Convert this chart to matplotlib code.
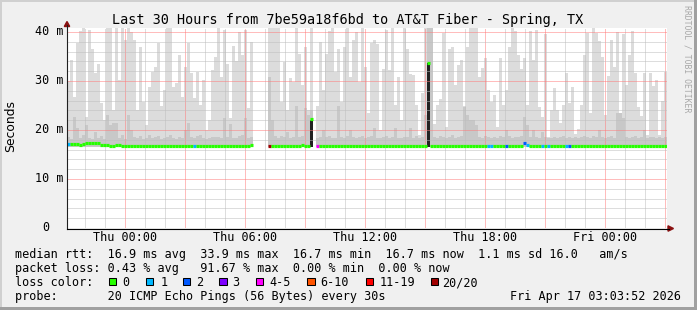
import matplotlib.pyplot as plt
import numpy as np
from matplotlib.patches import Rectangle, Polygon

nan = np.nan

# one smoke column every 9 minutes, hours counted from Thu 00:00
t_first = -2.885
step_h = 0.15

# top of the smoke (max rtt, ms)
smoke_max = [
    30.0, 34.3, 26.8, 37.7, 40.3, 41.0, 22.7, 40.5, 36.5, 31.6,
    33.5, 25.5, 22.0, 41.0, 41.0, 24.1, 41.0, 30.2, 41.0, 38.4,
    41.0, 40.0, 38.4, 24.1, 37.0, 25.8, 21.0, 28.8, 31.9, 32.9,
    37.7, 24.8, 28.2, 41.0, 41.0, 28.8, 29.5, 35.3, 26.8, 32.9,
    37.7, 31.6, 26.5, 31.9, 25.1, 30.2, 20.0, 22.0, 32.2, 35.0,
    41.0, 30.9, 40.5, 33.5, 22.5, 37.2, 34.0, 40.0, 35.3, 40.5,
    24.5, 38.0, nan, nan, nan, nan, nan, 41.0, 41.0, 41.0,
    41.0, 25.8, 33.9, 24.1, 30.6, 29.9, 41.0, 35.5, 29.2, 37.0,
    24.1, 41.0, nan, 25.0, 38.0, 28.2, 35.5, 40.3, 41.0, 31.9,
    36.5, 25.8, 37.0, 41.0, 30.9, 38.4, 40.0, 29.9, 41.0, 32.9,
    23.5, 37.7, 38.4, 37.5, 20.0, 32.4, 40.5, 32.2, 41.0, 25.2,
    30.9, 22.0, 41.0, 36.5, 31.4, 31.2, 25.1, 19.0, 27.5, 41.0,
    41.0, 41.0, 21.2, 25.1, 26.3, 39.7, 20.6, 36.5, 37.0, 29.2,
    33.2, 34.3, 24.8, 37.0, 41.0, 41.0, 41.0, 30.9, 32.7, 34.6,
    28.2, 25.8, 27.2, 20.6, 34.6, 25.1, 28.2, 37.0, 41.0, 40.3,
    35.3, 32.5, 34.6, 25.1, 40.3, 34.3, 40.5, 24.6, 22.7, 39.5,
    18.5, 24.0, 28.5, 24.0, 21.5, 25.1, 31.6, 25.5, 28.8, 19.2,
    20.3, 25.1, 35.3, 39.7, 23.4, 41.0, 39.7, 38.2, 35.0, 23.0,
    31.0, 38.4, 32.9, 40.0, 21.4, 39.5, 29.2, 35.3, 40.3, 31.6,
    24.6, 22.9, 31.6, 19.0, 31.6, 29.0, 30.2, 19.0, 26.0, 31.9,
]

# darker inner smoke (upper pings, ms)
smoke_upper = [
    18.6, 18.2, 22.7, 20.5, 18.4, 18.9, 21.0, 18.3, 18.1, 19.5,
    18.4, 18.8, 18.2, 23.0, 21.0, 21.5, 21.5, 18.4, 18.9, 18.2,
    23.0, 20.0, 18.5, 18.3, 18.7, 18.2, 18.4, 19.0, 18.3, 18.5,
    18.8, 18.2, 18.4, 18.6, 18.9, 18.3, 18.2, 18.6, 18.4, 20.0,
    21.5, 18.5, 18.3, 18.7, 19.0, 18.4, 18.2, 18.3, 18.6, 18.5,
    18.5, 18.3, 22.5, 18.6, 21.2, 18.4, 18.3, 18.8, 19.0, 22.5,
    18.4, 18.6, nan, nan, nan, nan, nan, 30.9, 22.0, 18.7,
    18.4, 18.8, 18.5, 19.5, 18.3, 18.6, 25.0, 18.5, 18.7, 24.5,
    23.0, 24.0, nan, 18.4, 18.6, 20.0, 18.5, 18.8, 18.4, 18.3,
    25.0, 18.6, 18.4, 18.7, 20.0, 18.5, 18.3, 18.6, 18.8, 18.4,
    18.5, 18.7, 20.5, 18.4, 18.3, 18.6, 18.8, 18.4, 18.5, 20.5,
    18.4, 18.3, 18.6, 18.5, 20.5, 18.4, 18.7, 18.3, 18.5, 23.0,
    41.0, 41.0, 18.6, 18.4, 18.8, 18.5, 18.3, 18.6, 18.9, 18.4,
    18.5, 18.7, 24.7, 23.0, 22.0, 22.0, 21.0, 18.6, 18.4, 18.8,
    18.5, 18.3, 18.6, 18.4, 18.7, 18.5, 20.0, 18.8, 18.4, 18.6,
    18.5, 18.7, 22.7, 21.0, 18.5, 20.0, 18.6, 18.4, 19.5, 18.5,
    18.3, 18.4, 18.6, 18.3, 18.5, 18.7, 18.4, 18.6, 18.3, 18.5,
    18.4, 18.6, 18.8, 18.5, 18.3, 18.7, 18.5, 20.0, 18.6, 18.4,
    18.5, 18.7, 18.4, 23.5, 23.5, 22.5, 18.6, 18.4, 18.5, 18.7,
    18.3, 18.6, 20.0, 18.4, 18.5, 18.6, 18.3, 18.5, 18.4, 18.6,
]
smoke_low = 16.5

# columns where the pings spread widely (dark core)
core_cols = [81, 120]
core_top = [22.0, 33.7]

# median rtt (ms)
median = [
    17.1, 17.1, 17.1, 17.1, 16.9, 17.1, 17.3, 17.3, 17.3, 17.3,
    17.3, 16.9, 16.9, 16.9, 16.8, 16.8, 16.9, 16.9, 16.8, 16.8,
    16.8, 16.8, 16.8, 16.8, 16.8, 16.8, 16.8, 16.8, 16.8, 16.8,
    16.8, 16.8, 16.8, 16.8, 16.8, 16.8, 16.8, 16.8, 16.8, 16.8,
    16.8, 16.8, 16.8, 16.8, 16.8, 16.8, 16.8, 16.8, 16.8, 16.8,
    16.8, 16.8, 16.8, 16.8, 16.8, 16.8, 16.8, 16.8, 16.8, 16.8,
    16.8, 16.9, nan, nan, nan, nan, nan, 16.7, 16.8, 16.8,
    16.8, 16.8, 16.8, 16.8, 16.8, 16.8, 16.8, 16.8, 16.9, 16.8,
    16.8, 22.2, nan, 16.8, 16.8, 16.8, 16.8, 16.8, 16.8, 16.8,
    16.8, 16.8, 16.8, 16.8, 16.8, 16.8, 16.8, 16.8, 16.8, 16.8,
    16.8, 16.8, 16.8, 16.8, 16.8, 16.8, 16.8, 16.8, 16.8, 16.8,
    16.8, 16.8, 16.8, 16.8, 16.8, 16.8, 16.8, 16.8, 16.8, 16.8,
    33.7, 16.8, 16.8, 16.8, 16.8, 16.8, 16.8, 16.8, 16.8, 16.8,
    16.8, 16.8, 16.8, 16.8, 16.8, 16.8, 16.8, 16.8, 16.8, 16.8,
    16.8, 16.8, 16.8, 16.8, 16.8, 16.8, 16.8, 16.8, 16.8, 16.8,
    16.8, 16.8, 17.3, 17.0, 16.8, 16.8, 16.8, 16.8, 16.7, 16.8,
    16.7, 16.8, 16.8, 16.8, 16.8, 16.8, 16.7, 16.7, 16.8, 16.8,
    16.8, 16.8, 16.8, 16.8, 16.8, 16.8, 16.8, 16.8, 16.8, 16.8,
    16.8, 16.8, 16.8, 16.8, 16.8, 16.8, 16.8, 16.8, 16.8, 16.8,
    16.8, 16.8, 16.8, 16.8, 16.8, 16.8, 16.8, 16.7, 16.8, 16.8,
]

# lost pings out of 20 per column
loss = [
    1, 0, 0, 0, 0, 0, 0, 0, 0, 0, 0, 0, 0, 0, 0, 0, 0, 0, 0, 0,
    0, 0, 0, 0, 0, 0, 0, 0, 0, 0, 0, 0, 0, 0, 0, 0, 0, 0, 0, 0,
    0, 0, 1, 0, 0, 0, 0, 0, 0, 0, 0, 0, 0, 0, 0, 0, 0, 0, 0, 0,
    0, 0, 0, 0, 0, 0, 0, 20, 0, 0, 0, 0, 0, 0, 0, 0, 0, 0, 0, 0,
    0, 0, 0, 4, 0, 0, 0, 0, 0, 0, 0, 0, 0, 0, 0, 0, 0, 0, 0, 0,
    0, 0, 0, 0, 0, 0, 0, 0, 0, 0, 0, 0, 0, 0, 0, 0, 0, 0, 0, 0,
    0, 0, 0, 0, 0, 0, 0, 0, 0, 0, 0, 0, 0, 0, 0, 0, 0, 0, 0, 0,
    1, 1, 0, 0, 0, 0, 2, 0, 0, 0, 0, 0, 2, 1, 0, 0, 0, 0, 1, 0,
    1, 0, 0, 0, 0, 0, 1, 2, 0, 0, 0, 0, 0, 0, 0, 0, 0, 0, 0, 0,
    0, 0, 0, 0, 0, 0, 0, 0, 0, 0, 0, 0, 0, 0, 0, 0, 0, 0, 0, 0,
]

loss_labels = ['0', '1', '2', '3', '4-5', '6-10', '11-19', '20/20']
loss_upper = [0, 1, 2, 3, 5, 10, 19, 20]
loss_colors = ['#26ff00', '#00b8ff', '#0059ff', '#7e00ff', '#ff00fe',
               '#ff5500', '#ff0000', '#a10000']

tick_hours = [0, 6, 12, 18, 24]
tick_labels = ['Thu 00:00', 'Thu 06:00', 'Thu 12:00', 'Thu 18:00', 'Fri 00:00']
ytick_vals = [0, 10, 20, 30, 40]

title = 'Last 30 Hours from 7be59a18f6bd to AT&T Fiber - Spring, TX'
line_rtt = 'median rtt:  16.9 ms avg  33.9 ms max  16.7 ms min  16.7 ms now  1.1 ms sd 16.0   am/s'
line_loss = 'packet loss: 0.43 % avg   91.67 % max  0.00 % min  0.00 % now'
line_probe = 'probe:       20 ICMP Echo Pings (56 Bytes) every 30s'
stamp = 'Fri Apr 17 03:03:52 2026'

W, H = 697, 310
MONO = 'DejaVu Sans Mono'
YTOP = 40.82


def fx(x):
    return x / W


def fy(y):
    return 1 - y / H


fig = plt.figure(figsize=(W / 100, H / 100), dpi=100, facecolor='#f0f0f0')
ax = fig.add_axes([fx(67), fy(228), 600 / W, 200 / H])
n = len(smoke_max)
t = t_first + step_h * np.arange(n)
t_end = t_first + step_h * n
ax.set_xlim(t_first, t_end)
ax.set_ylim(0, YTOP)
ax.set_facecolor('white')
for s in ax.spines.values():
    s.set_visible(False)
ax.set_xticks([])
ax.set_yticks([])

# smoke
mx = np.array(smoke_max)
up = np.array(smoke_upper)
ok = ~np.isnan(mx)
ax.bar(t[ok], mx[ok] - smoke_low, bottom=smoke_low, width=step_h, align='edge',
       color='#dcdcdc', linewidth=0, antialiased=False, zorder=1)
ax.bar(t[ok], up[ok] - smoke_low, bottom=smoke_low, width=step_h, align='edge',
       color='#c8c8c8', linewidth=0, antialiased=False, zorder=2)
ax.bar(t[core_cols], np.array(core_top) - smoke_low, bottom=smoke_low, width=step_h,
       align='edge', color='#222222', linewidth=0, antialiased=False, zorder=3)

# grid, 1px dotted
gkw = dict(linestyles=(0, (1, 1)), lw=0.72, zorder=4)
hrs = np.arange(np.ceil(t_first), t_end)
ax.vlines([h for h in hrs if h % 3], 0, YTOP, colors='#bdbdbd', **gkw)
ax.vlines([h for h in hrs if h % 3 == 0], 0, YTOP, colors='#ff7a7a', **gkw)
ax.hlines([v for v in range(2, 41, 2) if v % 10], t_first, t_end, colors='#bdbdbd', **gkw)
ax.hlines([10, 20, 30, 40], t_first, t_end, colors='#ff7a7a', **gkw)

# median line coloured by loss
med = np.array(median)
cls = np.searchsorted(loss_upper, loss)
okm = ~np.isnan(med)
ax.hlines(med[okm], t[okm], t[okm] + step_h, colors=[loss_colors[c] for c in cls[okm]],
          lw=2.3, zorder=5)

# axes and arrows
fig.add_artist(plt.Line2D([fx(67), fx(67)], [fy(228.5), fy(25)], color='#202020', lw=0.8,
                          transform=fig.transFigure))
fig.add_artist(plt.Line2D([fx(66.5), fx(669)], [fy(228.5), fy(228.5)], color='#000000', lw=0.8,
                          transform=fig.transFigure))
fig.add_artist(Polygon([[fx(64.3), fy(26.5)], [fx(69.7), fy(26.5)], [fx(67), fy(21.5)]],
                       closed=True, color='#8a1010', transform=fig.transFigure))
fig.add_artist(Polygon([[fx(668), fy(225.8)], [fx(668), fy(231.2)], [fx(673.5), fy(228.5)]],
                       closed=True, color='#8a1010', transform=fig.transFigure))

# texts
fig.text(fx(348), fy(24), title, family=MONO, fontsize=9.75, ha='center', va='baseline')
for h, lab in zip(tick_hours, tick_labels):
    px = 67 + (h - t_first) / (t_end - t_first) * 600
    fig.text(fx(px), fy(240.7), lab, family=MONO, fontsize=8.5, ha='center', va='baseline')
for v in ytick_vals:
    py = 228 - v / YTOP * 200
    lab = '%d m' % v if v else '0'
    x0 = 35.1 if v else 42.2
    fig.text(fx(x0), fy(py + 3.3), lab, family=MONO, fontsize=8.5, ha='left', va='baseline')
fig.text(fx(11), fy(126), 'Seconds', family='DejaVu Sans', fontsize=8.9, rotation=90,
         ha='center', va='center')
fig.text(fx(687.5), fy(5), 'RRDTOOL / TOBI OETIKER', family=MONO, fontsize=5.9, rotation=270,
         ha='center', va='top', color='#a8a8a8')

fig.text(fx(15), fy(258.3), line_rtt, family=MONO, fontsize=8.5, va='baseline')
fig.text(fx(15), fy(272.3), line_loss, family=MONO, fontsize=8.5, va='baseline')
fig.text(fx(15), fy(286.2), 'loss color:', family=MONO, fontsize=8.5, va='baseline')
fig.text(fx(15), fy(300), line_probe, family=MONO, fontsize=8.5, va='baseline')
fig.text(fx(681), fy(300), stamp, family=MONO, fontsize=8.5, ha='right', va='baseline')

box_x = [108.7, 145.7, 182.7, 219.3, 256, 307.3, 365.7, 430.7]
lab_x = [122.3, 160.3, 196.3, 232.3, 269.3, 320.3, 379.3, 442.3]
for bx, lx, lab, c in zip(box_x, lab_x, loss_labels, loss_colors):
    fig.add_artist(Rectangle((fx(bx), fy(285)), 7.3 / W, 7.3 / H, facecolor=c,
                             edgecolor='black', lw=0.75, transform=fig.transFigure))
    fig.text(fx(lx), fy(286.2), lab, family=MONO, fontsize=8.5, va='baseline')

# 3d frame
fig.add_artist(Rectangle((0, fy(2)), 1, 2 / H, color='#d0d0d0', lw=0, transform=fig.transFigure))
fig.add_artist(Rectangle((0, 0), 2 / W, 1, color='#d0d0d0', lw=0, transform=fig.transFigure))
fig.add_artist(Rectangle((0, 0), 1, 3 / H, color='#a0a0a0', lw=0, transform=fig.transFigure))
fig.add_artist(Rectangle((fx(694), 0), 3 / W, 1, color='#a0a0a0', lw=0, transform=fig.transFigure))

fig.savefig('out.png', dpi=100, facecolor=fig.get_facecolor())
